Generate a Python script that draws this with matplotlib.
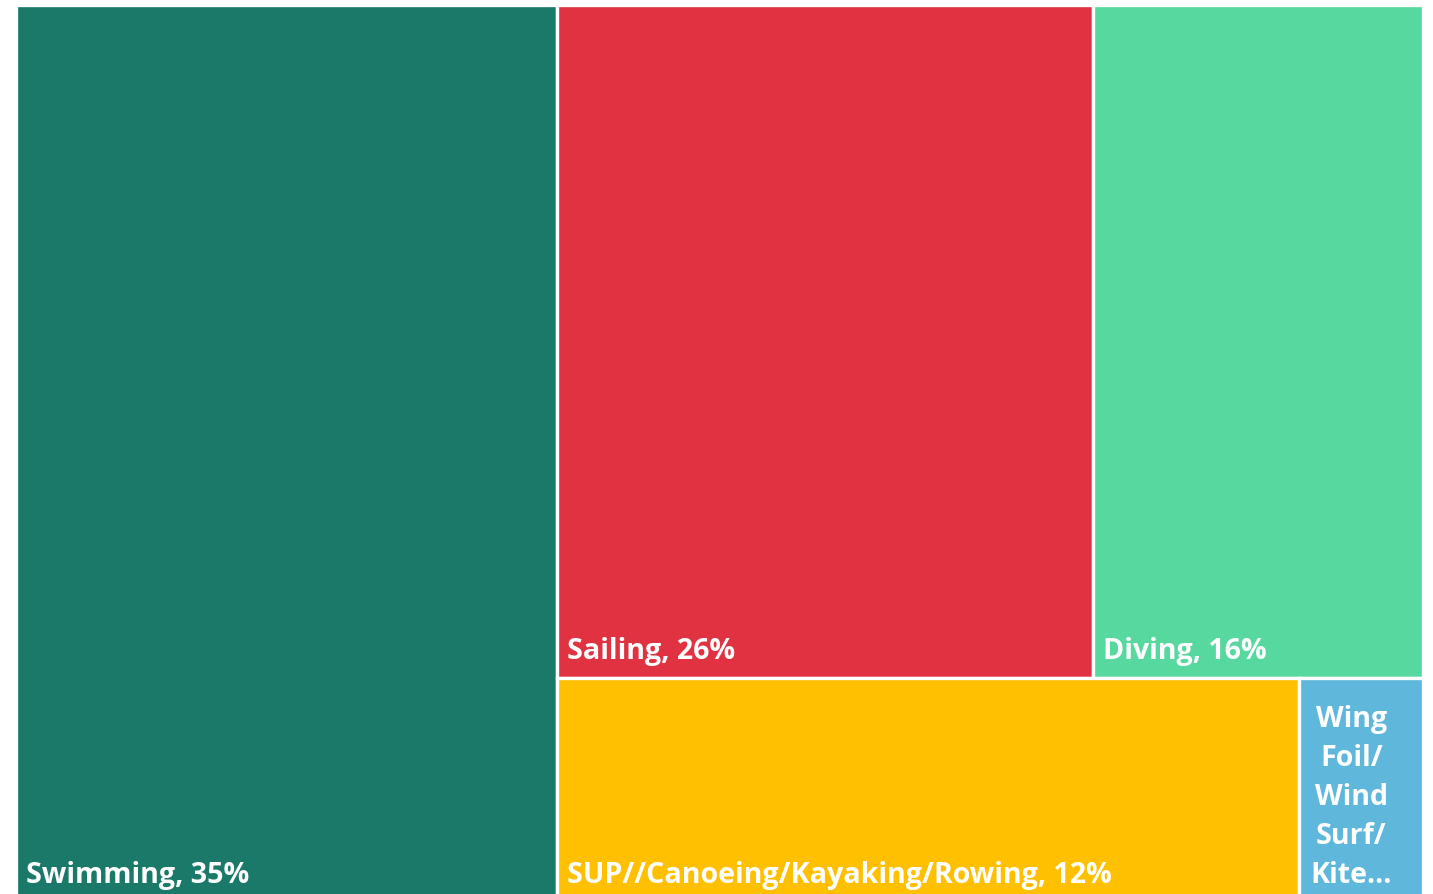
import matplotlib
matplotlib.use("Agg")
import matplotlib.pyplot as plt
from matplotlib.patches import Rectangle

# data
sports = ["Swimming", "Sailing", "Diving", "SUP//Canoeing/Kayaking/Rowing", "Wing Foil/Wind Surf/Kite Surfing"]
shares = [35, 26, 16, 12, 2]
colors = ["#1B796A", "#E03241", "#57D89E", "#FEC000", "#5FB7DB"]
# what the narrow tile can show
short_labels = ["Swimming, 35%", "Sailing, 26%", "Diving, 16%",
                "SUP//Canoeing/Kayaking/Rowing, 12%", "Wing\nFoil/\nWind\nSurf/\nKite..."]

plt.rcParams['font.family'] = ['Open Sans', 'DejaVu Sans']


def worst(row, side):
    s = sum(row)
    return max(max(side * side * r / (s * s), s * s / (side * side * r)) for r in row)


def squarify(vals, x, y, w, h):
    # classic squarified treemap, vals already scaled to area
    rects = []
    vals = list(vals)
    while vals:
        side = min(w, h)
        row = [vals.pop(0)]
        while vals and worst(row + [vals[0]], side) <= worst(row, side):
            row.append(vals.pop(0))
        s = sum(row)
        if w >= h:
            cw = s / h
            yy = y
            for r in row:
                rects.append((x, yy, cw, r / cw))
                yy += r / cw
            x += cw
            w -= cw
        else:
            rh = s / w
            xx = x
            for r in row:
                rects.append((xx, y, r / rh, rh))
                xx += r / rh
            y += rh
            h -= rh
    return rects


W, H = 1407.0, 897.0
fig = plt.figure(figsize=(14.33, 8.95), dpi=100)
ax = fig.add_axes([16 / 1433, -8 / 895, W / 1433, H / 895])
ax.set_xlim(0, W)
ax.set_ylim(H, 0)
ax.axis("off")

total = sum(shares)
areas = [v / total * W * H for v in shares]
rects = squarify(areas, 0, 0, W, H)

fs = 20.6
for i, (x, y, w, h) in enumerate(rects):
    ax.add_patch(Rectangle((x, y), w, h, facecolor=colors[i], edgecolor="white", linewidth=2.4))
    lines = short_labels[i].split("\n")
    if len(lines) == 1:
        ax.text(x + 10, y + h - 20, lines[0], color="white", fontsize=fs, fontweight="bold",
                ha="left", va="baseline")
    else:
        for k, ln in enumerate(reversed(lines)):
            ax.text(x + w * 0.42, y + h - 20 - k * 39, ln, color="white", fontsize=fs,
                    fontweight="bold", ha="center", va="baseline")

fig.savefig("out.png", dpi=100)
